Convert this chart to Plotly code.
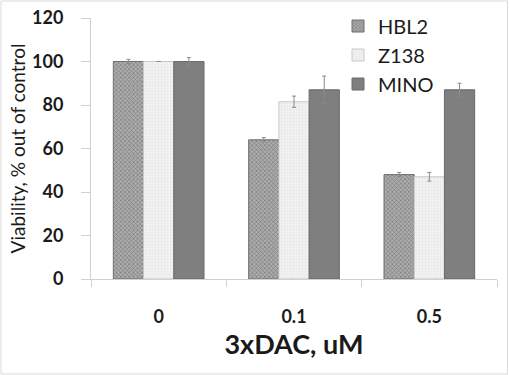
import plotly.graph_objects as go

categories = ["0", "0.1", "0.5"]
hbl2 = [100, 64, 48]
hbl2_err = [1.0, 1.0, 1.0]
z138 = [100, 81.5, 47]
z138_err = [0, 2.6, 2.0]
mino = [100, 87, 87]
mino_err = [1.8, 6.3, 3.0]
y_ticks = [0, 20, 40, 60, 80, 100, 120]

FONT = "Lato, Carlito, 'Open Sans', sans-serif"
INK = "#1a1a1a"

W, H = 509, 375
ML, MR, MT, MB = 91, 12, 18, 96
pw, ph = W - ML - MR, H - MT - MB

fig = go.Figure()
fig.add_bar(name="HBL2", x=categories, y=hbl2,
            marker=dict(color="#a0a0a0", line=dict(color="#6e6e6e", width=1),
                        pattern=dict(shape="x", fgcolor="#4a4a4a", bgcolor="#adadad", size=3, solidity=0.4)),
            error_y=dict(type="data", array=hbl2_err, color="#8a8a8a", thickness=1, width=2))
fig.add_bar(name="Z138", x=categories, y=z138,
            marker=dict(color="#efefef", line=dict(color="#c8c8c8", width=1),
                        pattern=dict(shape="+", fgcolor="#d8d8d8", bgcolor="#f2f2f2", size=3, solidity=0.3)),
            error_y=dict(type="data", array=z138_err, color="#8a8a8a", thickness=1, width=2))
fig.add_bar(name="MINO", x=categories, y=mino,
            marker=dict(color="#7f7f7f", line=dict(color="#6a6a6a", width=1)),
            error_y=dict(type="data", array=mino_err, color="#8a8a8a", thickness=1, width=2))

fig.update_layout(
    width=W, height=H,
    margin=dict(l=ML, r=MR, t=MT, b=MB, autoexpand=False),
    paper_bgcolor="white", plot_bgcolor="white",
    barmode="group", bargap=0.33, bargroupgap=0,
    font=dict(family=FONT, color=INK),
    legend=dict(x=(338 - ML) / pw, y=1.044, xanchor="left", yanchor="top",
                font=dict(size=20, family=FONT, color=INK),
                bgcolor="rgba(0,0,0,0)", itemwidth=30),
    xaxis=dict(type="category", showgrid=False, showline=True, linecolor="#d0d0d0", linewidth=1,
               ticks="outside", tickson="boundaries", ticklen=7, tickcolor="#d0d0d0",
               ticklabelstandoff=21, automargin=False,
               tickfont=dict(size=18, family=FONT, color=INK, weight="bold"),
               title=dict(text="<b>3xDAC, uM</b>", font=dict(size=27, family=FONT, color=INK), standoff=2)),
    yaxis=dict(range=[0, 120], tickvals=y_ticks, showgrid=False, showline=True, linecolor="#d0d0d0", linewidth=1,
               ticks="outside", ticklen=9, tickcolor="#d0d0d0", zeroline=False,
               ticklabelstandoff=14, automargin=False,
               tickfont=dict(size=18, family=FONT, color=INK, weight="bold"),
               title=dict(text="Viability, % out of control", font=dict(size=19, family=FONT, color=INK), standoff=1)),
    shapes=[dict(type="rect", xref="paper", yref="paper",
                 x0=(1 - ML) / pw, y0=-(MB - 1) / ph, x1=1 + (MR - 1.5) / pw, y1=1 + (MT - 1) / ph,
                 line=dict(color="#d9d9d9", width=1))],
)

fig.write_html("out.html", config={"displayModeBar": False},
               post_script="document.body.style.margin='0';")
